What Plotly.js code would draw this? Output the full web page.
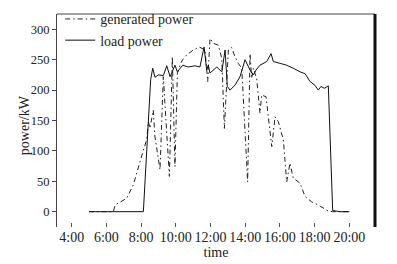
<!DOCTYPE html>
<html>
<head>
<meta charset="utf-8">
<script src="https://cdn.plot.ly/plotly-3.0.1.min.js"></script>
<style>html,body{margin:0;padding:0;background:#fff;}#chart{width:397px;height:264px;}</style>
</head>
<body>
<div id="chart"></div>
<script>
// time in decimal hours
const genTime = [5.0,6.0,6.40,6.50,7.17,7.55,7.94,8.13,8.32,8.42,8.51,8.70,8.80,9.09,9.28,9.63,9.80,9.95,10.09,10.28,10.40,10.63,11.01,11.35,11.68,11.84,11.97,12.16,12.45,12.65,12.80,13.03,13.22,13.41,13.60,13.80,14.14,14.28,14.37,14.47,14.66,14.85,14.95,15.20,15.53,15.72,15.91,16.20,16.39,16.58,16.77,17.16,17.45,17.83,18.21,18.79,19.04,20.0];
const genPower = [0,0,0,11,22,44,85,101,118,148,137,167,123,69,222,58,255,74,228,244,250,258,266,271,266,214,285,277,274,252,137,266,270,255,244,236,49,260,219,236,219,162,192,189,107,156,148,118,49,80,55,47,25,16,11,1,0,0];

const loadTime = [5.0,6.0,7.0,8.13,8.55,8.67,8.80,8.99,9.28,9.48,9.67,9.95,10.09,10.24,10.40,10.72,11.11,11.39,11.63,11.78,11.87,11.97,12.36,12.65,12.84,12.97,13.12,13.41,13.70,13.99,14.18,14.33,14.47,14.62,14.85,15.24,15.49,15.62,16.01,16.39,16.77,17.16,17.45,17.74,18.02,18.21,18.37,18.56,18.79,19.04,19.46,20.0];
const loadPower = [0,0,0,0,217,236,221,225,224,240,222,241,230,236,241,238,240,238,271,233,241,228,238,230,266,206,200,208,222,250,238,230,225,233,241,247,260,247,244,241,236,230,227,214,208,200,206,203,207,2,0,0];

const tickVals = [4,6,8,10,12,14,16,18,20];
const tickText = ['4:00','6:00','8:00','10:00','12:00','14:00','16:00','18:00','20:00'];
const yTicks = [0,50,100,150,200,250,300];

const font = {family: 'Liberation Serif, Times New Roman, serif', size: 14, color: '#222'};
const yTickFont = {family: 'Liberation Serif, Times New Roman, serif', size: 12.5, color: '#222'};

const traces = [
  {x: genTime, y: genPower, type: 'scatter', mode: 'lines', name: 'generated power',
   line: {color: '#222', width: 1, dash: '5px,3px,1.5px,3px'}},
  {x: loadTime, y: loadPower, type: 'scatter', mode: 'lines', name: 'load power',
   line: {color: '#111', width: 1}}
];

const layout = {
  width: 397, height: 264,
  margin: {l: 57, r: 22, t: 14, b: 37, pad: 0, autoexpand: false},
  paper_bgcolor: '#fff', plot_bgcolor: '#fff',
  font: font,
  showlegend: true,
  legend: {x: 0.01, y: 1.05, xanchor: 'left', yanchor: 'top', bgcolor: 'rgba(0,0,0,0)',
           borderwidth: 0, font: font, tracegroupgap: 0, itemwidth: 30},
  xaxis: {range: [3.153, 21.48], tickvals: tickVals, ticktext: tickText, automargin: false,
          ticks: 'inside', ticklen: 4, tickcolor: '#555', showgrid: false, zeroline: false,
          showline: false, tickfont: font,
          title: {text: 'time', font: font, standoff: 0}},
  yaxis: {range: [-25.2, 325.2], tickvals: yTicks, ticks: 'outside', ticklen: 4, tickcolor: '#444',
          showgrid: false, zeroline: false, showline: true, linecolor: '#444', linewidth: 1,
          tickfont: yTickFont, automargin: false},
  annotations: [
    {text: 'power/kW', xref: 'paper', yref: 'paper', x: -0.1, y: 0.479, textangle: -90,
     showarrow: false, font: font, xanchor: 'center', yanchor: 'middle'}
  ],
  shapes: [
    {type: 'line', xref: 'paper', yref: 'paper', x0: 0, x1: 1, y0: 1, y1: 1, line: {color: '#444', width: 1}},
    {type: 'line', xref: 'paper', yref: 'paper', x0: 1, x1: 1, y0: 0, y1: 1, line: {color: '#111', width: 3}}
  ]
};

Plotly.newPlot('chart', traces, layout, {displayModeBar: false, staticPlot: true});
</script>
</body>
</html>
